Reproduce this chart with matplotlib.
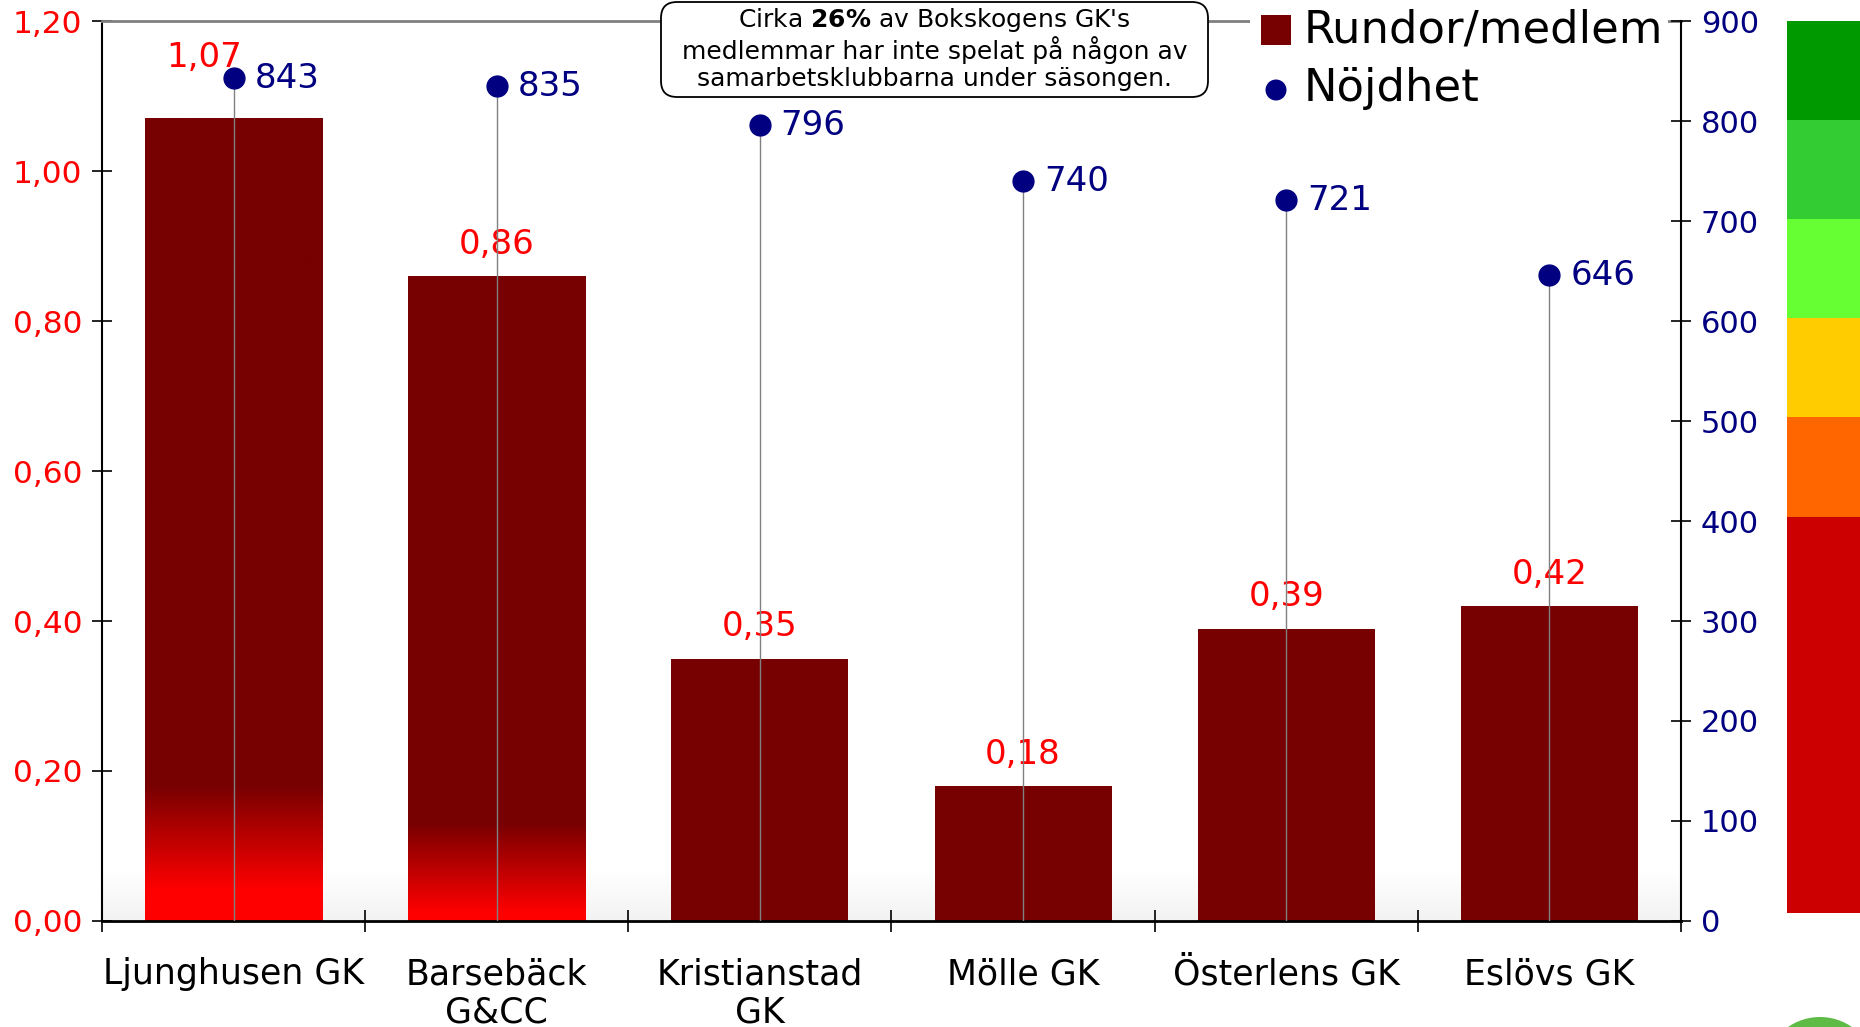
import numpy as np
import matplotlib
matplotlib.use("Agg")
import matplotlib.pyplot as plt
from matplotlib.patches import Rectangle, FancyBboxPatch, Circle
from matplotlib.transforms import IdentityTransform
from matplotlib.ticker import FuncFormatter
from matplotlib.colors import to_rgb

# ---------------- data ----------------
categories = ["Ljunghusen GK", "Barsebäck\nG&CC", "Kristianstad\nGK",
              "Mölle GK", "Österlens GK", "Eslövs GK"]
rundor_per_medlem = [1.07, 0.86, 0.35, 0.18, 0.39, 0.42]
nojdhet = [843, 835, 796, 740, 721, 646]
left_ticks = [0.0, 0.2, 0.4, 0.6, 0.8, 1.0, 1.2]
right_ticks = [0, 100, 200, 300, 400, 500, 600, 700, 800, 900]
scale_bounds = [0, 400, 500, 600, 700, 800, 900]
scale_colors = ["#CC0000", "#FF6600", "#FFCC00", "#66FF33", "#33CC33", "#009900"]
# red fade at the foot of some bars (value where pure red ends, value where dark red starts)
fade_low = [0.04, 0.01, None, None, None, None]
fade_high = [0.18, 0.13, None, None, None, None]
note_lines = [r"Cirka $\mathbf{26\%}$ av Bokskogens GK's",
              "medlemmar har inte spelat på någon av",
              "samarbetsklubbarna under säsongen."]
legend_labels = ["Rundor/medlem", "Nöjdhet"]

# ---------------- style ----------------
DARK = "#770000"
BRIGHT = "#FF0000"
NAVY = "#000080"
W, H = 1860, 1027
BAR_W = 0.673

fig = plt.figure(figsize=(W / 100, H / 100), dpi=100)
fig.patch.set_facecolor("white")


def px(x0, y0, x1, y1):
    return [x0 / W, 1 - y1 / H, (x1 - x0) / W, (y1 - y0) / H]


ax = fig.add_axes(px(102, 21, 1681, 921))
x = np.arange(len(categories))

# wall gradient at bottom of plot area
g = np.linspace(0.95, 1.0, 100)[:, None]
wall = np.dstack([g, g, g])
ax.imshow(wall, extent=[0, 1, 0, 0.055], transform=ax.transAxes, origin="lower",
          aspect="auto", zorder=0, interpolation="bilinear")

ax.bar(x, rundor_per_medlem, width=BAR_W, color=DARK, zorder=2)
dark_rgb = np.array(to_rgb(DARK))
bright_rgb = np.array(to_rgb(BRIGHT))
for xi, v, lo, hi in zip(x, rundor_per_medlem, fade_low, fade_high):
    if lo is None:
        continue
    ys = np.linspace(0, v, 400)
    t = np.clip((ys - lo) / (hi - lo), 0, 1)[:, None]
    cols = (1 - t) * bright_rgb + t * dark_rgb
    ax.imshow(cols[:, None, :], extent=[xi - BAR_W / 2, xi + BAR_W / 2, 0, v],
              origin="lower", aspect="auto", zorder=2.5, interpolation="bilinear")

for i, (xi, v) in enumerate(zip(x, rundor_per_medlem)):
    off = (-21, 44) if i == 0 else (0, 23)
    ax.annotate(f"{v:.2f}".replace(".", ","), (xi, v), xytext=off,
                textcoords="offset points", ha="center", va="center",
                fontsize=24.5, color="red", zorder=3)

ax.set_xlim(-0.5, 5.5)
ax.set_ylim(0, 1.2)
ax.set_yticks(left_ticks)
ax.yaxis.set_major_formatter(FuncFormatter(lambda v, p: f"{v:.2f}".replace(".", ",")))
ax.tick_params(axis="y", direction="inout", length=14.4, width=1.2,
               labelsize=22.5, labelcolor="red", pad=7)
ax.set_xticks(x)
ax.set_xticklabels(categories, fontsize=25, linespacing=1.15)
ax.tick_params(axis="x", which="major", length=0, pad=26)
ax.set_xticks(np.arange(-0.5, 6.0, 1.0), minor=True)
ax.tick_params(axis="x", which="minor", direction="inout", length=16, width=1.2)

ax.spines["top"].set_color("#808080")
ax.spines["top"].set_linewidth(2)
ax.spines["right"].set_visible(False)
ax.spines["left"].set_linewidth(1.5)
ax.spines["bottom"].set_linewidth(2)

# secondary axis
ax2 = ax.twinx()
ax2.set_ylim(0, 900)
ax2.set_yticks(right_ticks)
ax2.tick_params(axis="y", direction="inout", length=14.4, width=1.2,
                labelsize=22, labelcolor=NAVY, pad=7)
for s in ["top", "left", "bottom"]:
    ax2.spines[s].set_visible(False)
ax2.spines["right"].set_linewidth(1.5)

ax2.vlines(x, 0, nojdhet, colors="#808080", lw=1, zorder=3)
ax2.plot(x, nojdhet, "o", color=NAVY, ms=15, linestyle="none", zorder=4)
for xi, v in zip(x, nojdhet):
    ax2.annotate(str(v), (xi, v), xytext=(15, 0), textcoords="offset points",
                 ha="left", va="center", fontsize=24.5, color=NAVY, zorder=5)

# colour scale on the right
cax = fig.add_axes(px(1787, 21, 1860, 913))
cax.bar(0, np.diff(scale_bounds), bottom=scale_bounds[:-1], width=1.0,
        color=scale_colors)
cax.set_xlim(-0.5, 0.5)
cax.set_ylim(0, 900)
cax.axis("off")

ident = IdentityTransform()

# legend
fig.add_artist(Rectangle((1250, H - 120), 418, 120, transform=ident,
                         fc="white", ec="none", zorder=5))
fig.add_artist(Rectangle((1261, H - 45), 30, 30, transform=ident,
                         fc=DARK, ec="none", zorder=6))
fig.add_artist(Circle((1276, H - 90), 10.5, transform=ident,
                      fc=NAVY, ec="none", zorder=6))
fig.text(1304 / W, 1 - 30 / H, legend_labels[0], fontsize=32.3, ha="left",
         va="center", zorder=7)
fig.text(1304 / W, 1 - 89 / H, legend_labels[1], fontsize=32.3, ha="left",
         va="center", zorder=7)

# note box
fig.add_artist(FancyBboxPatch((661, H - 97), 547, 95, transform=ident,
                              boxstyle="round,pad=0,rounding_size=16",
                              fc="white", ec="black", lw=1.3, zorder=5))
for yy, line in zip([20, 50, 79], note_lines):
    fig.text(934.5 / W, 1 - yy / H, line, fontsize=18, ha="center",
             va="center", zorder=7)

# partial green circle at bottom-right corner
fig.add_artist(Circle((1820, H - 1073), 56, transform=ident,
                      fc="#5DBB46", ec="none", zorder=5))

fig.savefig("out.png", dpi=100)
